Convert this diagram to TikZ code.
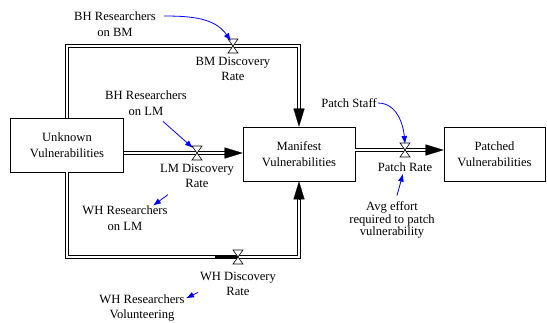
\documentclass[tikz,border=0pt]{standalone}
\usepackage{fontspec}
\setmainfont{Liberation Serif}
\usetikzlibrary{arrows.meta,positioning,calc}

\tikzset{
  stock/.style={draw,line width=0.7pt,minimum height=54pt,align=center,inner sep=0pt},
  lbl/.style={align=center,inner sep=1pt},
  pipe/.style={double distance=2.4pt,line width=0.9pt,line join=miter},
  tip/.style={-{Triangle[length=18pt,width=11pt]},line width=0.1pt},
  info/.style={-{Latex[length=8pt,width=6pt]},color=blue,line width=0.8pt},
  valve/.pic={\filldraw[fill=white,line width=0.6pt] (-5,-7) -- (5,-7) -- (-5,7) -- (5,7) -- cycle;}
}

\begin{document}
\begin{tikzpicture}[x=1pt,y=-1pt,font=\rmfamily\fontsize{12.6}{15.5}\selectfont]
            \useasboundingbox (0,0) rectangle (547,322);

            % stocks
            \node[stock,minimum width=113pt] (unk) at (67,145) {Unknown\\Vulnerabilities};
            \node[stock,minimum width=112pt] (man) at (299,154) {Manifest\\Vulnerabilities};
            \node[stock,minimum width=101pt] (pat) at (494.5,154) {Patched\\Vulnerabilities};

            % valves and pipe corners
            \coordinate (vbm) at (233,46);
            \coordinate (vlm) at (197,153);
            \coordinate (vwh) at (238,257);
            \coordinate (vpr) at (405,150);
            \coordinate (tl) at (67,46);
            \coordinate (tr) at (299,46);
            \coordinate (bl) at (67,257);
            \coordinate (br) at (299,257);

            % flows
            \draw[pipe] (unk.north) -- (tl) -- (tr) -- ($(man.north)+(0,-17)$);
            \draw[tip] ($(man.north)+(0,-18)$) -- (man.north);
            \draw[pipe] (unk.south) -- (bl) -- (br) -- ($(man.south)+(0,17)$);
            \draw[tip] ($(man.south)+(0,18)$) -- (man.south);
            \draw[line width=2.5pt] (215,257) -- (vwh);
            \draw[pipe] (unk.east |- vlm) -- ($(man.west |- vlm)+(-17,0)$);
            \draw[tip] ($(man.west |- vlm)+(-18,0)$) -- (man.west |- vlm);
            \draw[pipe] (man.east |- vpr) -- ($(pat.west |- vpr)+(-17,0)$);
            \draw[tip] ($(pat.west |- vpr)+(-18,0)$) -- (pat.west |- vpr);

            \pic at (vbm) {valve};
            \pic at (vlm) {valve};
            \pic at (vwh) {valve};
            \pic at (vpr) {valve};

            % labels
            \node[lbl] (bmr) at (233,69) {BM Discovery\\Rate};
            \node[lbl] (lmr) at (197,176) {LM Discovery\\Rate};
            \node[lbl] (whr) at (238,284) {WH Discovery\\Rate};
            \node[lbl] (prr) at (405,167) {Patch Rate};
            \node[lbl] (bhbm) at (115,24) {BH Researchers\\on BM};
            \node[lbl] (bhlm) at (146,103) {BH Researchers\\on LM};
            \node[lbl] (whlm) at (125,218) {WH Researchers\\on LM};
            \node[lbl] (whvol) at (142,308) {WH Researchers\\Volunteering};
            \node[lbl] (staff) at (349,103) {Patch Staff};
            \node[lbl,font=\rmfamily\fontsize{12.6}{12.5}\selectfont] (effort) at (392,220) {Avg effort\\required to patch\\vulnerability};

            % information links
            \draw[info] ([shift={(7,-8)}]bhbm.east) to[out=0,in=125] ($(vbm)+(-2,-5)$);
            \draw[info] ([shift={(17,5)}]bhlm.south) -- ($(vlm)+(-4,-5)$);
            \draw[info] ([shift={(43,-10)}]whlm.north) -- ([shift={(28,1)}]whlm.north);
            \draw[info] ([shift={(56,-1)}]whvol.north) -- ([shift={(44,5)}]whvol.north);
            \draw[info] (staff.east) to[out=0,in=95] ($(vpr)+(0,-6)$);
            \draw[info] ([shift={(5,-5)}]effort.north) -- ($(prr.south)+(-2,1)$);
        \end{tikzpicture}
\end{document}
